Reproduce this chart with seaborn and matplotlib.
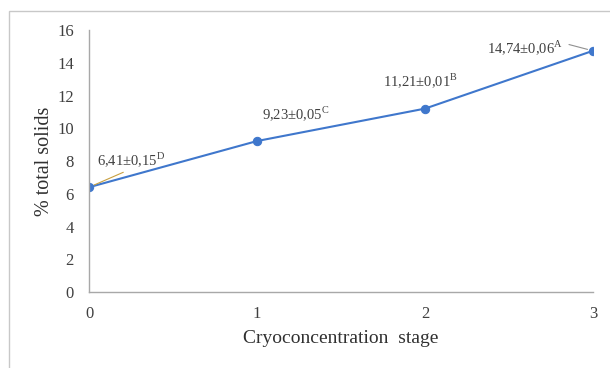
import matplotlib
matplotlib.use("Agg")
import matplotlib.pyplot as plt
import matplotlib.patches as mpatches
import seaborn as sns
import pandas as pd

# Data
stages = [0, 1, 2, 3]
solids = [6.41, 9.23, 11.21, 14.74]
labels = ["6,41±0,15$^{\\mathrm{D}}$", "9,23±0,05$^{\\mathrm{C}}$",
          "11,21±0,01$^{\\mathrm{B}}$", "14,74±0,06$^{\\mathrm{A}}$"]
y_ticks = [0, 2, 4, 6, 8, 10, 12, 14, 16]

df = pd.DataFrame({"stage": stages, "solids": solids})

sns.set_style("white")
plt.rcParams["font.family"] = ["Liberation Serif", "DejaVu Serif"]
plt.rcParams["mathtext.fontset"] = "custom"
plt.rcParams["mathtext.rm"] = "Liberation Serif"

fig = plt.figure(figsize=(6.1, 3.68), dpi=100)
ax = fig.add_axes([0.146, 0.206, 0.826, 0.712])

blue = "#3F77CC"
sns.lineplot(data=df, x="stage", y="solids", ax=ax, color=blue, linewidth=1.5,
             marker="o", markersize=6, markeredgecolor=blue)

ax.set_xlim(0, 3)
ax.set_ylim(0, 16)
ax.set_xticks(stages)
ax.set_yticks(y_ticks)
ax.tick_params(axis="y", labelsize=12, length=0, colors="#404040", pad=11)
ax.tick_params(axis="x", labelsize=12, length=0, colors="#404040", pad=10)
ax.set_xlabel("Cryoconcentration  stage", fontsize=14, color="#303030", labelpad=6)
ax.set_ylabel("% total solids", fontsize=14.5, color="#303030", labelpad=2)
for s in ["top", "right"]:
    ax.spines[s].set_visible(False)
for s in ["left", "bottom"]:
    ax.spines[s].set_color("#A8A8A8")
    ax.spines[s].set_linewidth(1.0)

# data labels
ann = dict(fontsize=10.5, color="#404040")
ax.annotate(labels[0], xy=(stages[0], solids[0]), xytext=(0.045, 8.1), ha="left", va="center",
            arrowprops=dict(arrowstyle="-", color="#C8A040", lw=0.8,
                            shrinkA=0, shrinkB=4, relpos=(0.5, 0)), **ann)
ax.text(1.03, 10.9, labels[1], ha="left", va="center", **ann)
ax.text(1.75, 12.95, labels[2], ha="left", va="center", **ann)
ax.annotate(labels[3], xy=(stages[3], solids[3]), xytext=(2.595, 14.95), ha="center", va="center",
            arrowprops=dict(arrowstyle="-", color="#909090", lw=0.8,
                            shrinkA=0, shrinkB=4, relpos=(1.08, 0.65)), **ann)

# outer frame
fig.patches.append(mpatches.Rectangle((9 / 610, -0.01), 1.0, 1 - 11 / 368 + 0.01,
                                      transform=fig.transFigure, fill=False,
                                      edgecolor="#C8C8C8", linewidth=1.0))

fig.savefig("out.png", dpi=100)
